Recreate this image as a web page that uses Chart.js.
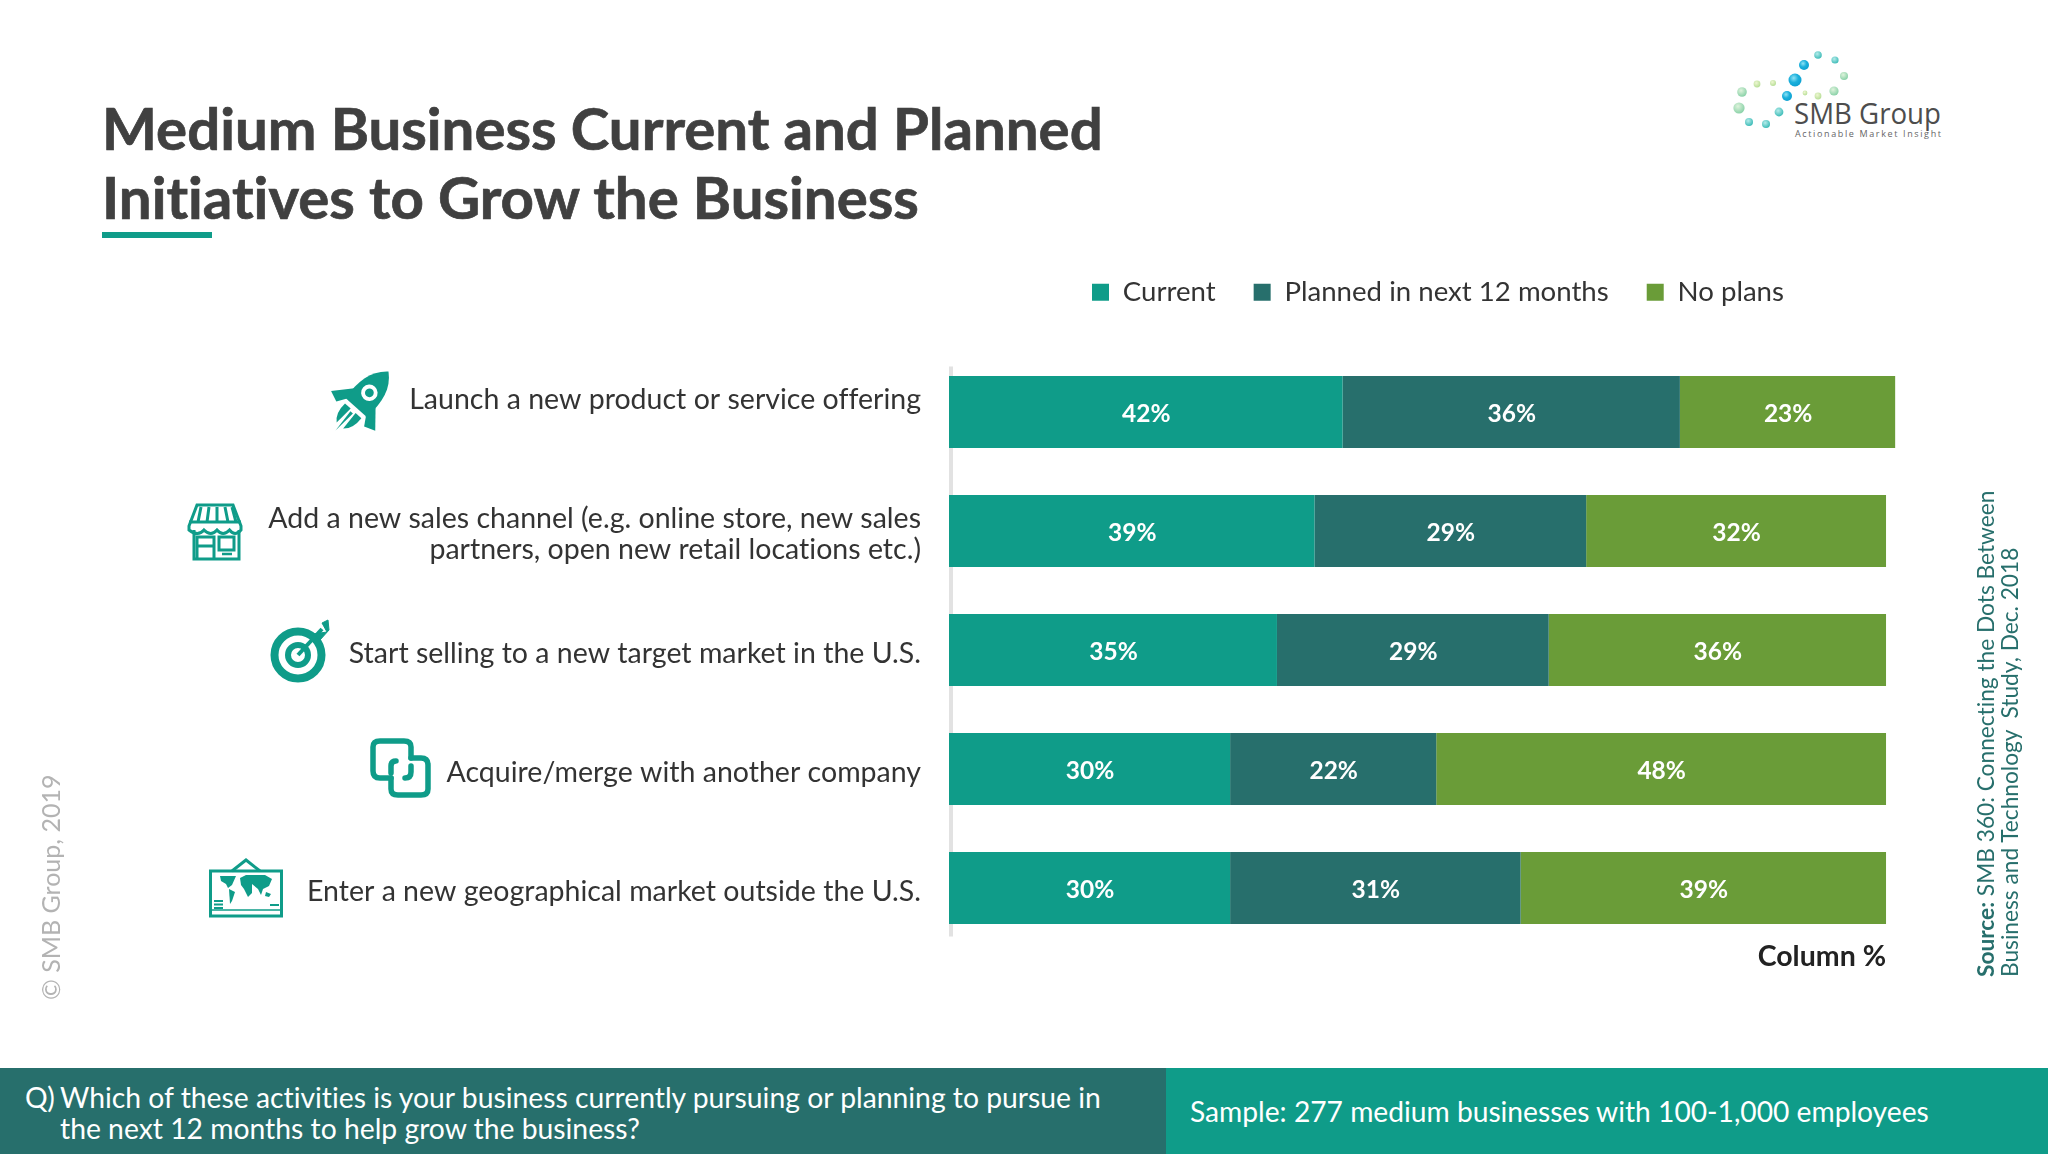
<!DOCTYPE html>
<html><head><meta charset="utf-8">
<script src="https://cdn.jsdelivr.net/npm/chart.js@4"></script>
<style>
html,body{margin:0;padding:0;background:#fff;width:2048px;height:1154px;overflow:hidden;font-family:Lato,sans-serif;font-variant-ligatures:none}
#stage{position:relative;width:2048px;height:1154px}
canvas{position:absolute;left:0;top:0}
.t{position:absolute;white-space:nowrap}
#title{left:102px;top:93px;font-size:58.2px;line-height:69px;font-weight:700;color:#404040;-webkit-text-stroke:.7px #404040}
#rule{position:absolute;left:102px;top:232px;width:110px;height:6px;background:#0f9c89}
#col{right:162px;top:938px;font-size:28.5px;font-weight:700;color:#222;line-height:34px}
#foot1{position:absolute;left:0;top:1068px;width:1166px;height:86px;background:#276f6c;color:#fff;font-size:28.3px;line-height:31px}
#foot2{position:absolute;left:1166px;top:1068px;width:882px;height:86px;background:#0f9c89;color:#fff;font-size:28.2px;line-height:86px}
#source{left:1974px;top:977px;transform-origin:0 0;transform:rotate(-90deg);font-size:22.7px;line-height:23.5px;color:#276f6c}
#copy{left:36px;top:1000px;transform-origin:0 0;transform:rotate(-90deg);font-size:25px;line-height:28px;color:#b3b3b3}
svg{position:absolute;left:0;top:0}
</style></head><body>
<div id="stage">
<svg width="2048" height="1154" viewBox="0 0 2048 1154">
<defs>
<radialGradient id="gb" cx=".4" cy=".35" r=".7"><stop offset="0" stop-color="#8fe3f5"/><stop offset=".5" stop-color="#1cb0dc"/><stop offset="1" stop-color="#0a9fd0"/></radialGradient>
<radialGradient id="gt" cx=".4" cy=".35" r=".7"><stop offset="0" stop-color="#b5ecea"/><stop offset="1" stop-color="#35b8b4"/></radialGradient>
<radialGradient id="gg" cx=".4" cy=".35" r=".7"><stop offset="0" stop-color="#dff3dc"/><stop offset="1" stop-color="#83cfa4"/></radialGradient>
<radialGradient id="gl" cx=".4" cy=".35" r=".7"><stop offset="0" stop-color="#eef7d2"/><stop offset="1" stop-color="#b3dc92"/></radialGradient>
</defs>
<g>
<circle cx="1818" cy="55" r="3.8" fill="url(#gt)"/><circle cx="1835" cy="60" r="3.6" fill="url(#gt)"/>
<circle cx="1804" cy="65" r="5" fill="url(#gb)"/><circle cx="1795" cy="80" r="6.5" fill="url(#gb)"/>
<circle cx="1844" cy="76" r="4" fill="url(#gg)"/><circle cx="1834" cy="91" r="4.6" fill="url(#gg)"/>
<circle cx="1787" cy="96" r="5" fill="url(#gb)"/><circle cx="1805" cy="93" r="2.4" fill="url(#gl)"/>
<circle cx="1818" cy="96" r="3.4" fill="url(#gl)"/><circle cx="1773" cy="83" r="3" fill="url(#gl)"/>
<circle cx="1757" cy="84" r="3.4" fill="url(#gl)"/><circle cx="1742" cy="92" r="4.8" fill="url(#gg)"/>
<circle cx="1739" cy="108" r="5.6" fill="url(#gg)"/><circle cx="1779" cy="112" r="4.4" fill="url(#gt)"/>
<circle cx="1749" cy="122" r="4" fill="url(#gt)"/><circle cx="1766" cy="124" r="4" fill="url(#gt)"/>
<text x="1794" y="124" font-family="Open Sans" font-size="30" fill="#4d4d4d" textLength="147" lengthAdjust="spacingAndGlyphs">SMB Group</text>
<text x="1795" y="137" font-family="Open Sans" font-size="9" fill="#666" textLength="146" lengthAdjust="spacing">Actionable Market Insight</text>
</g>
<g fill="#0f9c89" transform="translate(362 401) rotate(42) scale(1.1)">
<path d="M0-36C12-26 15-12 13 8H-13C-15-12-12-26 0-36Z"/>
<circle cx="0" cy="-10" r="7.5" fill="#fff"/><circle cx="0" cy="-10" r="4" fill="#0f9c89"/>
<path d="M-13-4L-27 12-17 16-12 8Z"/><path d="M13-4L27 12 17 16 12 8Z"/>
<path d="M-10 12H-3L-4 30Q-11 24-10 12Z"/><path d="M10 12H3L4 30Q11 24 10 12Z"/><path d="M-1.5 14H1.5L0 36Z"/>
</g>
<g fill="none" stroke="#0f9c89" stroke-width="3">
<path d="M194 530V559H239V530"/>
<path d="M197 505H233L241 526V530Q235 537 229.500 530Q223 537 217 530Q211 537 204 530Q198 537 189 530V526Z"/>
<path d="M189 522H241M201 507L198 522M209 507L207 522M217 507V522M225 507L228 522M232 507L236 522"/>
<path d="M197 559V537H214V559M197 546H214M219 537H234V550H219Z"/>
<path d="M222 554H232" stroke-width="2.500"/>
</g>
<g fill="none" stroke="#0f9c89">
<circle cx="298" cy="655" r="23.500" stroke-width="8"/><circle cx="298" cy="655" r="10" stroke-width="6"/>
<path d="M298 655L322 629" stroke-width="4"/>
<path d="M313 634L327 632 322 623 328 620 329 630 320 640Z" fill="#0f9c89" stroke-width="1"/>
</g>
<g fill="none" stroke="#0f9c89" stroke-width="5.500" stroke-linejoin="round" stroke-linecap="round">
<path d="M391 778H380Q373 778 373 771V747Q373 741 380 741H404Q411 741 411 747V758"/>
<path d="M411 758H421Q428 758 428 765V789Q428 795 421 795H398Q391 795 391 789V778"/>
<path d="M391 773V766Q391 761 396 761M411 766V772Q411 778 405 778"/>
</g>
<g>
<g fill="none" stroke="#0f9c89" stroke-width="3"><rect x="210.500" y="871" width="71" height="45"/><path d="M232 871L246 860 260 871"/><path d="M212 910H280" stroke-width="1.500"/></g>
<g fill="#0f9c89">
<path d="M220 876H236L232 885 228 888 226 884 221 881Z"/><path d="M229 889L235 892 232 901 230 904Z"/>
<path d="M240 878L246 875H265L272 879 269 886 263 889 261 895 258 889 252 884 252 893 248 897 244 889 241 885Z"/>
<path d="M266 892L271 894 269 897 265 896Z"/>
<rect x="214" y="900" width="9" height="2"/><rect x="214" y="903.500" width="9" height="2"/><rect x="214" y="907" width="9" height="2"/><rect x="270" y="904" width="9" height="2"/>
</g></g>
</svg>
<div id="title" class="t">Medium Business Current and Planned<br>Initiatives to Grow the Business</div>
<div id="rule"></div>
<canvas id="c" width="2048" height="1154"></canvas>
<div id="col" class="t">Column %</div>
<div id="source" class="t"><b>Source:</b> SMB 360: Connecting the Dots Between<br>Business and Technology&nbsp; Study, Dec. 2018</div>
<div id="copy" class="t">© SMB Group, 2019</div>
<div id="foot1"><span class="t" style="left:25px;top:14px">Q)</span><span class="t" style="left:60px;top:14px">Which of these activities is your business currently pursuing or planning to pursue in<br>the next 12 months to help grow the business?</span></div>
<div id="foot2"><span class="t" style="left:24px;top:0">Sample: 277 medium businesses with 100-1,000 employees</span></div>
</div>
<script>
const categories = [
  ["Launch a new product or service offering", ""],
  ["Add a new sales channel (e.g. online store, new sales", "partners, open new retail locations etc.)"],
  "Start selling to a new target market in the U.S.",
  "Acquire/merge with another company",
  "Enter a new geographical market outside the U.S."
];
const seriesNames = ["Current", "Planned in next 12 months", "No plans"];
const currentValues = [42, 39, 35, 30, 30];
const plannedValues = [36, 29, 29, 22, 31];
const noPlansValues = [23, 32, 36, 48, 39];
const seriesColors = ["#0f9c89", "#276f6c", "#6a9c38"];

const font = "Lato";
const legendPad = 38, legendFont = 27.6, legendHeight = 100;

const overlay = {
  id: "overlay",
  beforeLayout(chart) {
    const l = chart.legend;
    if (l && !l._fixedFit) {
      const fit = l.fit;
      l.fit = function () { fit.call(this); this.height = legendHeight; };
      l._fixedFit = true;
    }
  },
  afterLayout(chart) {
    const l = chart.legend;
    l.left = 1092 - legendPad;
    l.right = 2048;
    l.top = 295 - legendPad - legendFont * 0.6;
  },
  beforeDraw(chart) {
    chart.ctx.letterSpacing = "0.01px";
  },
  beforeDatasetsDraw(chart) {
    const { ctx, chartArea: a } = chart;
    ctx.save();
    ctx.fillStyle = "#e2e2e2";
    ctx.fillRect(a.left, a.top + 14, 4, a.bottom - a.top - 25);
    ctx.restore();
  },
  afterDatasetsDraw(chart) {
    const ctx = chart.ctx;
    ctx.save();
    ctx.font = `700 24.5px ${font}`;
    ctx.fillStyle = "#fff";
    ctx.textAlign = "center";
    ctx.textBaseline = "middle";
    chart.data.datasets.forEach((ds, i) => {
      chart.getDatasetMeta(i).data.forEach((bar, j) => {
        const p = bar.getCenterPoint();
        ctx.fillText(ds.data[j] + "%", p.x + 0.5, p.y + 2);
      });
    });
    ctx.restore();
  }
};

new Chart(document.getElementById("c"), {
  type: "bar",
  data: {
    labels: categories,
    datasets: [currentValues, plannedValues, noPlansValues].map((d, i) => ({
      label: seriesNames[i],
      data: d,
      backgroundColor: seriesColors[i],
      borderWidth: 0,
      barPercentage: 0.605,
      categoryPercentage: 1
    }))
  },
  options: {
    indexAxis: "y",
    responsive: false,
    animation: false,
    devicePixelRatio: 1,
    layout: { padding: { top: 352.5 - legendHeight, right: 2048 - 1895.4, bottom: 206.5, left: 0 } },
    scales: {
      x: { stacked: true, min: 0, max: 101, display: false },
      y: {
        stacked: true,
        afterFit(s) { s.width = 949; },
        grid: { display: false, drawTicks: false },
        border: { display: false },
        ticks: {
          autoSkip: false, padding: 28, color: "#333", labelOffset: 3.5,
          font: { family: font, size: 28.5, lineHeight: 31 / 28.5 }
        }
      }
    },
    plugins: {
      tooltip: { enabled: false },
      legend: {
        position: "top", align: "start",
        labels: {
          boxWidth: 17, boxHeight: 17, padding: legendPad, color: "#333",
          font: { family: font, size: legendFont }
        }
      }
    }
  },
  plugins: [overlay]
});
</script>
</body></html>
